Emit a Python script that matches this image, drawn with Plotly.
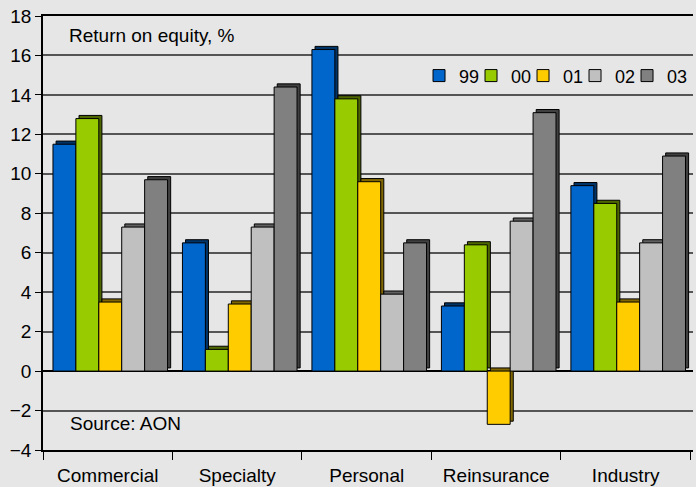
import plotly.graph_objects as go

categories = ["Commercial", "Specialty", "Personal", "Reinsurance", "Industry"]
series_names = ["99", "00", "01", "02", "03"]
values_99 = [11.5, 6.5, 16.3, 3.3, 9.4]
values_00 = [12.8, 1.1, 13.8, 6.4, 8.5]
values_01 = [3.5, 3.4, 9.6, -2.7, 3.5]
values_02 = [7.3, 7.3, 3.9, 7.6, 6.5]
values_03 = [9.7, 14.4, 6.5, 13.1, 10.9]
series_values = [values_99, values_00, values_01, values_02, values_03]

front_colors = ["#0066CC", "#99CC00", "#FFCC00", "#C0C0C0", "#808080"]
side_colors = ["#003366", "#4D6600", "#806600", "#606060", "#404040"]

bar_w = 0.177
start_off = -0.423
dx = 0.024   # depth shift in x (category units)
dy = 0.16    # depth shift in y (value units)

fig = go.Figure()

# depth (side/top faces)
for i, (name, vals) in enumerate(zip(series_names, series_values)):
    fig.add_trace(go.Bar(
        x=categories, y=vals, base=[dy] * len(vals),
        offset=start_off + i * bar_w + dx, width=bar_w,
        marker=dict(color=side_colors[i], line=dict(color="#000000", width=1)),
        showlegend=False, hoverinfo="skip",
    ))

# front faces
for i, (name, vals) in enumerate(zip(series_names, series_values)):
    fig.add_trace(go.Bar(
        x=categories, y=vals, name=name,
        offset=start_off + i * bar_w, width=bar_w,
        marker=dict(color=front_colors[i], line=dict(color="#000000", width=1)),
        legendwidth=(22 if i == len(series_names) - 1 else None),
    ))

font_family = "Liberation Sans, Arial, sans-serif"

fig.update_layout(
    width=696, height=487,
    barmode="overlay",
    paper_bgcolor="#E6E6E6",
    plot_bgcolor="#E6E6E6",
    margin=dict(l=43, r=3, t=16, b=37, autoexpand=False),
    font=dict(family=font_family, size=19, color="#000000"),
    legend=dict(
        orientation="h", x=0.5785, y=0.862, xanchor="left", yanchor="middle",
        bgcolor="rgba(0,0,0,0)", font=dict(size=18),
        itemwidth=30, entrywidth=7, entrywidthmode="pixels",
        traceorder="normal",
    ),
    annotations=[
        dict(text="Return on equity, %", x=0.037, y=0.956, xref="paper", yref="paper",
             xanchor="left", yanchor="middle", showarrow=False, font=dict(size=19)),
        dict(text="Source: AON", x=0.039, y=0.062, xref="paper", yref="paper",
             xanchor="left", yanchor="middle", showarrow=False, font=dict(size=19)),
    ],
)

fig.update_xaxes(
    type="category", tickson="boundaries", ticks="outside", ticklen=8,
    tickcolor="#000000", showline=True, linecolor="#000000", linewidth=1.5,
    mirror=True, ticklabelstandoff=7,
    showgrid=False, tickfont=dict(size=19), range=[-0.5, 4.52], automargin=False,
)
fig.update_yaxes(
    range=[-4, 18], dtick=2, ticks="outside", ticklen=6, tickcolor="#000000",
    showline=True, linecolor="#000000", linewidth=1.5,
    showgrid=True, gridcolor="#555555", gridwidth=1.5,
    zeroline=True, zerolinecolor="#000000", zerolinewidth=1.5,
    tickfont=dict(size=19), automargin=False,
)

fig.write_html(
    "out.html",
    config={"displayModeBar": False},
    post_script="document.body.style.margin='0';document.body.style.background='#E6E6E6';",
)
